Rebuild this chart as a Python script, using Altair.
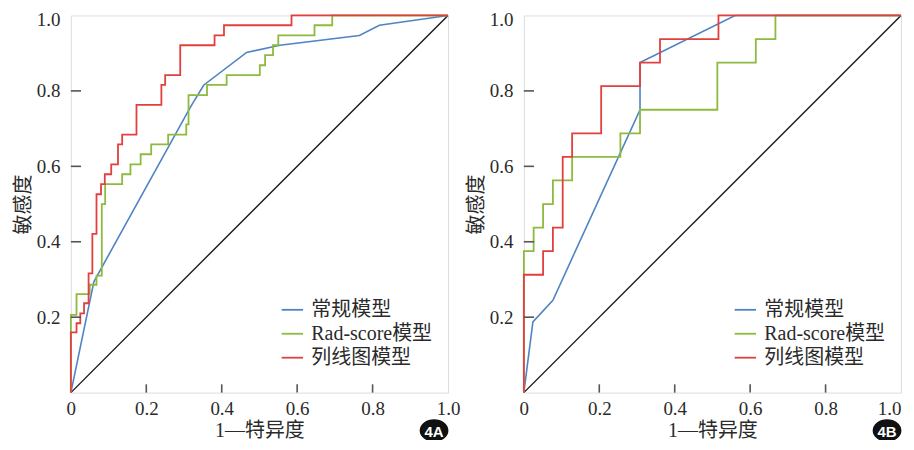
import altair as alt
import pandas as pd

MODELS = ["常规模型", "Rad-score模型", "列线图模型"]
COLORS = ["#4f84c4", "#8dba3f", "#e2403e"]

# ---- Panel 4A ----
A_conv_fpr = [0, 0.061, 0.317, 0.352, 0.466, 0.554, 0.765, 0.818, 1.0]
A_conv_tpr = [0, 0.294, 0.757, 0.815, 0.902, 0.921, 0.947, 0.974, 1.0]
A_rad_fpr = [0, 0, 0.015, 0.05, 0.068, 0.082, 0.091, 0.136, 0.158, 0.185, 0.213, 0.258,
             0.306, 0.312, 0.361, 0.413, 0.501, 0.515, 0.536, 0.55, 0.646, 0.693, 1.0]
A_rad_tpr = [0, 0.206, 0.261, 0.286, 0.31, 0.5, 0.553, 0.579, 0.605, 0.632, 0.658, 0.684,
             0.711, 0.789, 0.816, 0.842, 0.868, 0.895, 0.921, 0.947, 0.974, 1.0, 1.0]
A_nom_fpr = [0, 0, 0.015, 0.025, 0.035, 0.047, 0.057, 0.068, 0.08, 0.09, 0.107, 0.125,
             0.136, 0.174, 0.24, 0.25, 0.29, 0.381, 0.406, 0.585, 1.0]
A_nom_tpr = [0, 0.16, 0.184, 0.21, 0.237, 0.316, 0.421, 0.526, 0.553, 0.579, 0.605, 0.658,
             0.684, 0.763, 0.816, 0.842, 0.921, 0.947, 0.974, 1.0, 1.0]

# ---- Panel 4B ----
B_conv_fpr = [0, 0.024, 0.077, 0.308, 0.308, 0.56, 1.0]
B_conv_tpr = [0, 0.1875, 0.245, 0.75, 0.875, 1.0, 1.0]
B_rad_fpr = [0, 0, 0.026, 0.051, 0.077, 0.128, 0.256, 0.308, 0.513, 0.615, 0.667, 1.0]
B_rad_tpr = [0, 0.375, 0.4375, 0.5, 0.5625, 0.625, 0.6875, 0.75, 0.875, 0.9375, 1.0, 1.0]
B_nom_fpr = [0, 0, 0.051, 0.077, 0.103, 0.128, 0.205, 0.308, 0.361, 0.516, 1.0]
B_nom_tpr = [0, 0.3125, 0.375, 0.4375, 0.625, 0.6875, 0.8125, 0.875, 0.9375, 1.0, 1.0]

DIAG = [0, 1]
X_TICKS = [0.2, 0.4, 0.6, 0.8]
Y_TICKS = [0.2, 0.4, 0.6, 0.8]
X_LABELS = [0, 0.2, 0.4, 0.6, 0.8, 1.0]
Y_LABELS = [0.2, 0.4, 0.6, 0.8, 1.0]

FONT = "Liberation Serif, Noto Sans CJK SC"
TXT = "#2a2a2a"
FRAME = "#555555"
W = 378
H = 378


def frame(model, fpr, tpr):
    return pd.DataFrame({"model": model, "fpr": fpr, "tpr": tpr, "idx": range(len(fpr))})


def panel(conv, rad, nom, badge, last_shift):
    df_lin = frame(MODELS[0], *conv)
    df_step = pd.concat([frame(MODELS[1], *rad), frame(MODELS[2], *nom)])
    xsc = alt.Scale(domain=[0, 1], nice=False, zero=False)
    ysc = alt.Scale(domain=[0, 1], nice=False, zero=False)
    color = alt.Color(
        "model:N",
        scale=alt.Scale(domain=MODELS, range=COLORS),
        legend=alt.Legend(
            title=None, orient="none", legendX=210, legendY=283,
            symbolType="stroke", symbolSize=460, symbolStrokeWidth=1.8,
            labelFont=FONT, labelFontSize=20, labelColor=TXT, labelOffset=7,
            rowPadding=2, labelLimit=300,
        ),
    )
    xax = alt.Axis(values=X_LABELS, labelExpr="datum.value == 0 ? '0' : format(datum.value, '.1f')",
                   domain=False, ticks=False, grid=False, labelFlush=False, labelOverlap=False,
                   labelOffset={"condition": {"test": "datum.value == 1", "value": last_shift}, "value": 0},
                   labelFont=FONT, labelFontSize=19, labelColor=TXT, labelPadding=7,
                   title="1—特异度", titleFont=FONT, titleFontSize=20, titleFontWeight="normal",
                   titleColor=TXT, titlePadding=2)
    yax = alt.Axis(values=Y_LABELS, format=".1f", domain=False, ticks=False, grid=False,
                   labelFlush=False, labelOverlap=False,
                   labelOffset={"condition": {"test": "datum.value == 1", "value": 4}, "value": 0},
                   labelFont=FONT, labelFontSize=19, labelColor=TXT, labelPadding=11,
                   title="敏感度", titleFont=FONT, titleFontSize=20, titleFontWeight="normal",
                   titleColor=TXT, titlePadding=3)

    diag = alt.Chart(pd.DataFrame({"fpr": DIAG, "tpr": DIAG})).mark_line(
        color="#1a1a1a", strokeWidth=1.4
    ).encode(x=alt.X("fpr:Q", scale=xsc, axis=xax), y=alt.Y("tpr:Q", scale=ysc, axis=yax))

    lin = alt.Chart(df_lin).mark_line(strokeWidth=1.6, interpolate="linear").encode(
        x="fpr:Q", y="tpr:Q", color=color, order="idx:Q", detail="model:N")
    step = alt.Chart(df_step).mark_line(strokeWidth=1.8, interpolate="step-after").encode(
        x="fpr:Q", y="tpr:Q", color=color, order="idx:Q", detail="model:N")

    xt = alt.Chart(pd.DataFrame({"v": X_TICKS})).mark_rule(color=FRAME, strokeWidth=1.6).encode(
        x="v:Q", y=alt.datum(0), y2=alt.datum(0.022))
    yt = alt.Chart(pd.DataFrame({"v": Y_TICKS})).mark_rule(color=FRAME, strokeWidth=1.6).encode(
        y="v:Q", x=alt.datum(0), x2=alt.datum(0.027))

    bdf = pd.DataFrame({"t": [badge]})
    bshape = alt.Chart(bdf).mark_point(
        shape="M-1,0A1,0.76,0,1,1,1,0A1,0.76,0,1,1,-1,0Z", filled=True, fill="#111111",
        stroke="#111111", opacity=1, size=720
    ).encode(x=alt.value(364), y=alt.value(416))
    btext = alt.Chart(bdf).mark_text(
        font="Liberation Sans", fontSize=15, fontWeight="bold", color="white",
        align="center", baseline="middle", dy=1
    ).encode(x=alt.value(364), y=alt.value(416), text="t:N")

    return alt.layer(diag, lin, step, xt, yt, bshape, btext).properties(width=W, height=H)


pa = panel((A_conv_fpr, A_conv_tpr), (A_rad_fpr, A_rad_tpr), (A_nom_fpr, A_nom_tpr), "4A", 0)
pb = panel((B_conv_fpr, B_conv_tpr), (B_rad_fpr, B_rad_tpr), (B_nom_fpr, B_nom_tpr), "4B", -12)

chart = (
    alt.hconcat(pa, pb, spacing=76, bounds="flush")
    .resolve_scale(color="independent")
    .resolve_legend(color="independent")
    .properties(padding={"left": 4, "top": 1, "right": 0, "bottom": -6})
    .configure_view(stroke=FRAME, strokeWidth=2)
    .configure(background="white")
)

chart.save("out.html", embed_options={"renderer": "svg", "actions": False})
